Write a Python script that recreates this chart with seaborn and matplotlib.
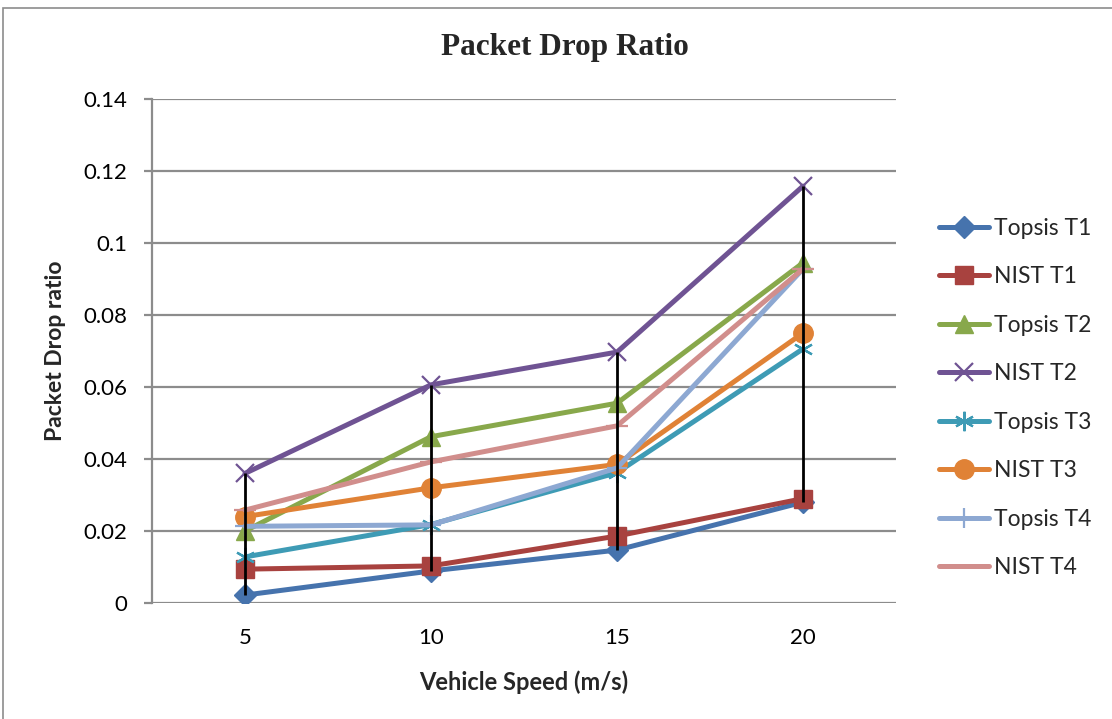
import numpy as np
import pandas as pd
import matplotlib
matplotlib.use("Agg")
import matplotlib.pyplot as plt
import seaborn as sns
from matplotlib.patches import Rectangle

speeds = [5, 10, 15, 20]
series_names = ["Topsis T1", "NIST T1", "Topsis T2", "NIST T2",
                "Topsis T3", "NIST T3", "Topsis T4", "NIST T4"]
topsis_t1 = [0.0022, 0.0089, 0.0147, 0.0280]
nist_t1 = [0.0094, 0.0103, 0.0186, 0.0290]
topsis_t2 = [0.0200, 0.0462, 0.0555, 0.0945]
nist_t2 = [0.0360, 0.0606, 0.0697, 0.1158]
topsis_t3 = [0.0128, 0.0218, 0.0362, 0.0706]
nist_t3 = [0.0240, 0.0320, 0.0385, 0.0750]
topsis_t4 = [0.0213, 0.0217, 0.0375, 0.0928]
nist_t4 = [0.0258, 0.0392, 0.0492, 0.0928]
y_ticks = [0, 0.02, 0.04, 0.06, 0.08, 0.1, 0.12, 0.14]
y_tick_labels = ["0", "0.02", "0.04", "0.06", "0.08", "0.1", "0.12", "0.14"]

values = [topsis_t1, nist_t1, topsis_t2, nist_t2, topsis_t3, nist_t3, topsis_t4, nist_t4]
colors = ["#4673AD", "#A8423F", "#88A84B", "#6F5393", "#3E9BB5",
          "#E08236", "#8DA8D2", "#D18E8C"]
markers = ["D", "s", "^", "x", (6, 2, 0), "o", "+", "_"]
msizes = [11, 13, 13, 13, 14, 14, 15, 16]

df = pd.DataFrame({
    "speed": np.tile(speeds, len(series_names)),
    "value": np.concatenate(values),
    "series": np.repeat(series_names, len(speeds)),
})

sns.set_theme(style="white")
plt.rcParams["font.family"] = ["Lato", "DejaVu Sans"]

fig = plt.figure(figsize=(11.12, 7.19), dpi=100)
ax = fig.add_axes([152/1112, 1 - 603/719, (896-152)/1112, (603-99)/719])

for name, col, mk, ms in zip(series_names, colors, markers, msizes):
    sub = df[df["series"] == name]
    sns.lineplot(data=sub, x="speed", y="value", ax=ax, color=col, lw=3.6,
                 marker=mk, markersize=ms, markeredgecolor=col,
                 markeredgewidth=1.6 if mk in ("x", "+", "_") or isinstance(mk, tuple) else 1,
                 label=name, zorder=3)

# high-low lines
arr = np.array(values)
ax.vlines(speeds, arr.min(axis=0), arr.max(axis=0), color="black", lw=2, zorder=5)

ax.set_xlim(2.5, 22.5)
ax.set_ylim(0, 0.14)
ax.set_xticks(speeds)
ax.set_xticklabels([str(s) for s in speeds], fontsize=16)
ax.set_yticks(y_ticks)
ax.set_yticklabels(y_tick_labels, fontsize=16)
ax.yaxis.grid(True, color="#8C8C8C", lw=1.6, zorder=0)
ax.xaxis.grid(False)
for s in ["top", "right", "bottom"]:
    ax.spines[s].set_visible(False)
ax.spines["left"].set_color("#8C8C8C")
ax.spines["left"].set_linewidth(1.6)
ax.tick_params(axis="y", which="major", direction="out", length=6, width=1.6,
               color="#8C8C8C", left=True, pad=12, labelcolor="black")
ax.tick_params(axis="x", length=0, pad=18, labelcolor="black")
ax.set_axisbelow(True)

ax.set_xlabel("Vehicle Speed (m/s)", fontsize=17, fontweight="bold", labelpad=16)
ax.set_ylabel("Packet Drop ratio", fontsize=16.5, fontweight="bold", labelpad=12)
fig.text(565/1112, 1 - 48/719, "Packet Drop Ratio", ha="center", va="center",
         fontsize=22.5, fontweight="bold", family="Liberation Serif")

leg = ax.legend(loc="center left", bbox_to_anchor=(918/1112, 1 - 398/719),
                bbox_transform=fig.transFigure, frameon=False, fontsize=16.5,
                handlelength=2.2, labelspacing=1.2, handletextpad=0.2)

fig.patches.append(Rectangle((3/1112, -0.01), 1.2, 1 - 8/719 + 0.01, transform=fig.transFigure,
                             fill=False, edgecolor="#8C8C8C", lw=1.2))

fig.savefig("out.png", dpi=100)
